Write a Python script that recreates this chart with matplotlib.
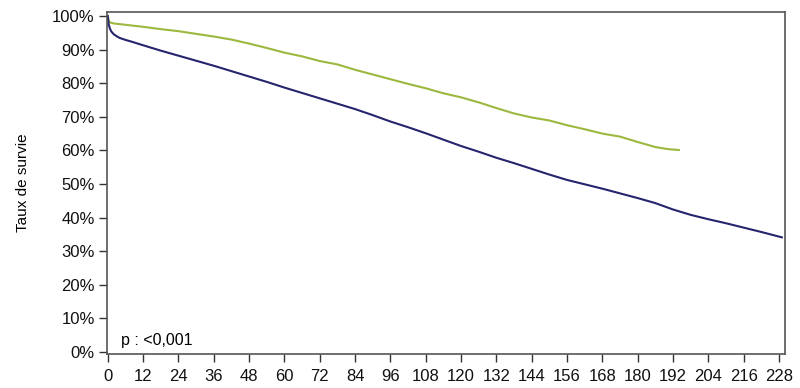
import numpy as np
import matplotlib.pyplot as plt
from matplotlib.ticker import FuncFormatter

plt.rcParams['font.family'] = ['Liberation Sans', 'DejaVu Sans']

# survival curves (months, %)
months_a = [0, 0.3, 0.7, 1.2, 2, 3, 4, 6, 8, 12, 18, 24, 30, 36, 42, 48, 54, 60, 66, 72,
            78, 84, 90, 96, 102, 108, 114, 120, 126, 132, 138, 144, 150, 156, 162, 168,
            174, 180, 186, 192, 198, 204, 210, 216, 222, 229]
surv_a = [100, 97.6, 96.3, 95.4, 94.6, 94.0, 93.5, 92.9, 92.4, 91.3, 89.7, 88.2, 86.7, 85.2,
          83.6, 82.0, 80.4, 78.7, 77.1, 75.5, 73.9, 72.3, 70.5, 68.6, 66.9, 65.1, 63.2, 61.3,
          59.6, 57.8, 56.2, 54.5, 52.8, 51.2, 49.9, 48.6, 47.2, 45.8, 44.3, 42.4, 40.8, 39.5,
          38.3, 37.0, 35.7, 34.1]

months_b = [0, 0.3, 0.8, 2, 6, 12, 18, 24, 30, 36, 42, 48, 54, 60, 66, 72, 78, 84, 90, 96,
            102, 108, 114, 120, 126, 132, 138, 144, 150, 156, 162, 168, 174, 180, 186, 190, 194]
surv_b = [100, 98.6, 98.1, 97.8, 97.4, 96.8, 96.1, 95.5, 94.7, 93.9, 93.0, 91.8, 90.5, 89.1,
          88.0, 86.6, 85.6, 84.0, 82.6, 81.2, 79.8, 78.5, 77.0, 75.8, 74.3, 72.6, 71.0, 69.8,
          68.9, 67.5, 66.3, 65.0, 64.1, 62.5, 61.0, 60.4, 60.1]

xticks = list(range(0, 229, 12))
yticks = list(range(0, 101, 10))

fig = plt.figure(figsize=(8, 3.88), dpi=100)
ax = fig.add_axes([0.134, 0.088, 0.847, 0.881])

ax.plot(months_b, surv_b, color='#9cb83e', lw=1.5)
ax.plot(months_a, surv_a, color='#25256e', lw=1.5)

ax.set_xlim(-0.2, 230)
ax.set_ylim(-0.6, 101.2)
ax.set_xticks(xticks)
ax.set_yticks(yticks)
ax.yaxis.set_major_formatter(FuncFormatter(lambda v, p: f'{int(v)}%'))
ax.tick_params(direction='out', length=6, width=1, labelsize=12, colors='#333333',
               labelcolor='#111111')
ax.tick_params(axis='x', pad=5)
ax.tick_params(axis='y', pad=3)
ax.set_ylabel('Taux de survie', fontsize=11, labelpad=16)

for s in ax.spines.values():
    s.set_color('#555555')
    s.set_linewidth(1.2)

ax.text(0.02, 0.04, 'p : <0,001', transform=ax.transAxes, fontsize=11.5, va='center')

fig.savefig('out.png', dpi=100)
